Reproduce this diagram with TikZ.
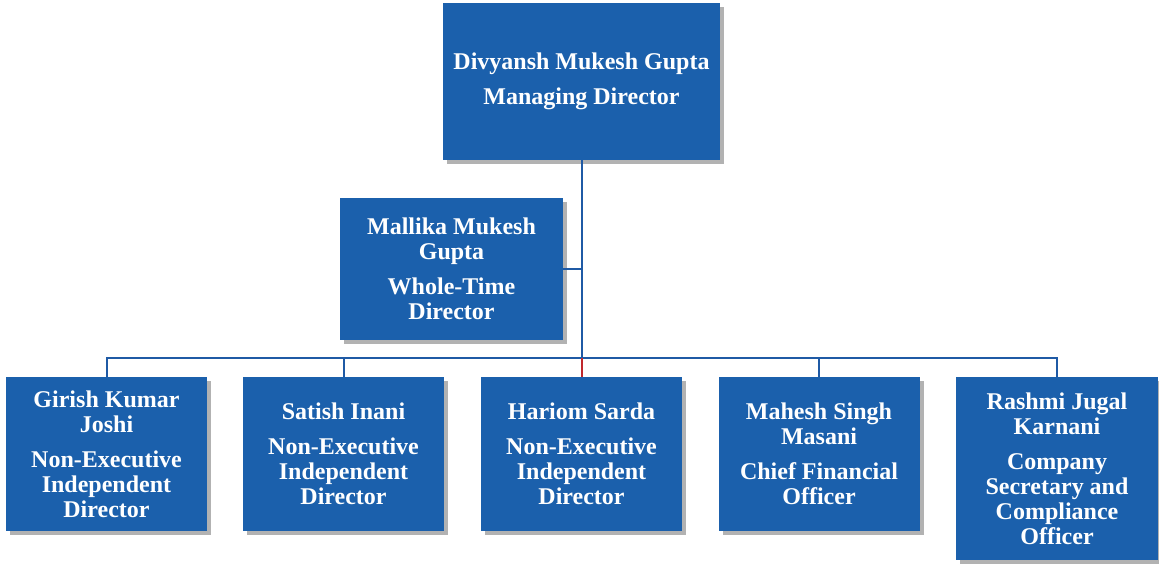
\documentclass[tikz,border=0pt]{standalone}
\usepackage{fontspec}
\setmainfont{Liberation Serif}
\usepackage{xcolor}
\usetikzlibrary{shadows}
\definecolor{boxblue}{RGB}{27,96,172}
\definecolor{lineblue}{RGB}{31,90,165}
\definecolor{linkred}{RGB}{192,40,45}

\begin{document}
\begin{tikzpicture}[x=0.5pt,y=-0.5pt,
                    main node/.style={rectangle,fill=boxblue,text=white,align=center,inner sep=0pt,
                      font=\bfseries\fontsize{12}{12.5}\selectfont,
                      drop shadow={shadow xshift=2pt,shadow yshift=-2pt,fill=black,opacity=0.3}},
                    link/.style={draw=lineblue,line width=1pt}]
\useasboundingbox (0,0) rectangle (1159,565);

\node[main node,minimum width=138.5pt,minimum height=78.5pt] (MD) at (581.5,81.5)
  {Divyansh Mukesh Gupta\\[5pt]Managing Director};
\node[main node,minimum width=111.5pt,minimum height=71pt] (WTD) at (451.5,269)
  {Mallika Mukesh\\Gupta\\[5pt]Whole-Time\\Director};

\foreach \x/\id/\txt in {106.5/GKJ/{Girish Kumar\\Joshi\\[5pt]Non-Executive\\Independent\\Director},
                        343.5/SI/{Satish Inani\\[5pt]Non-Executive\\Independent\\Director},
                        581.5/HS/{Hariom Sarda\\[5pt]Non-Executive\\Independent\\Director},
                        819/MSM/{Mahesh Singh\\Masani\\[5pt]Chief Financial\\Officer}}
   {\node[main node,minimum width=100.5pt,minimum height=77pt] (\id) at (\x,454) {\txt};}

\node[main node,minimum width=101pt,minimum height=91.5pt] (RJK) at (1057,468.5)
  {Rashmi Jugal\\Karnani\\[5pt]Company\\Secretary and\\Compliance\\Officer};

\coordinate (Bus) at (581.5,358);

\draw[link] (MD.south) -- (Bus);
\draw[link] (WTD.east) -- (WTD.east -| MD.south);
\draw[link] (GKJ.north) |- (RJK.north |- Bus) -- (RJK.north);
\foreach \id in {SI,MSM}
   {\draw[link] (\id.north) -- (\id.north |- Bus);}
\draw[draw=linkred,line width=1pt] (Bus) -- (HS.north);

\end{tikzpicture}
\end{document}
